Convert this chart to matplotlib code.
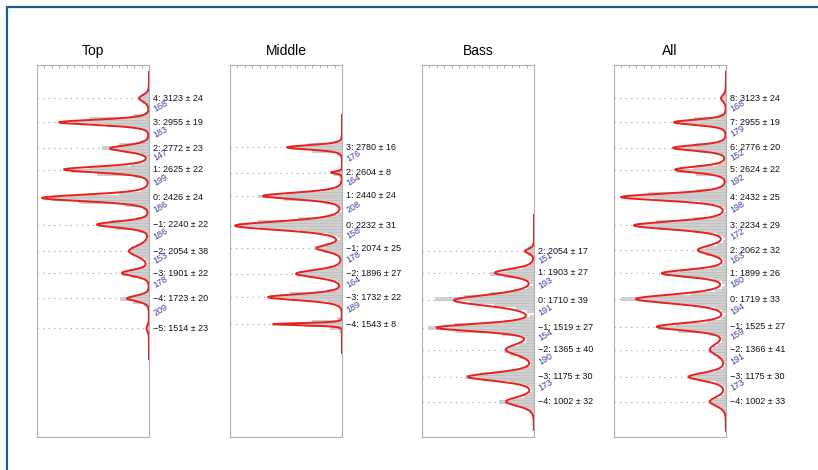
import numpy as np
import matplotlib.pyplot as plt
from matplotlib.patches import Rectangle

plt.rcParams['font.family'] = ['Liberation Sans', 'DejaVu Sans']

panel_titles = ['Top', 'Middle', 'Bass', 'All']

# fitted peaks: index, centre, spread, height of the fitted curve
top_idx = [4, 3, 2, 1, 0, -1, -2, -3, -4, -5]
top_mean = [3123, 2955, 2772, 2625, 2426, 2240, 2054, 1901, 1723, 1514]
top_sd = [24, 19, 23, 22, 24, 22, 38, 22, 20, 23]
top_amp = [10, 90, 39, 85, 107, 52, 20, 27, 22, 2.5]
top_span = (1299, 3307)

mid_idx = [3, 2, 1, 0, -1, -2, -3, -4]
mid_mean = [2780, 2604, 2440, 2232, 2074, 1896, 1732, 1543]
mid_sd = [16, 8, 24, 31, 25, 27, 22, 8]
mid_amp = [55, 11, 79, 107, 25, 46, 74, 69]
mid_span = (1340, 3006)

bass_idx = [2, 1, 0, -1, -2, -3, -4]
bass_mean = [2054, 1903, 1710, 1519, 1365, 1175, 1002]
bass_sd = [17, 27, 39, 27, 40, 30, 32]
bass_amp = [9, 39, 80, 97, 28, 66, 28]
bass_span = (804, 2307)

all_idx = [8, 7, 6, 5, 4, 3, 2, 1, 0, -1, -2, -3, -4]
all_mean = [3123, 2955, 2776, 2624, 2432, 2234, 2062, 1899, 1719, 1525, 1366, 1175, 1002]
all_sd = [24, 19, 20, 22, 25, 29, 32, 26, 33, 27, 41, 30, 33]
all_amp = [5, 52, 53, 51, 105, 92, 28, 64, 90, 69, 16, 37, 16]
all_span = (798, 3309)

# histogram counts, 9 bins of 20 around each peak (low -> high)
top_hist = [
    [0, 1, 3, 7, 10, 6, 3, 1, 0],
    [1, 3, 10, 42, 76, 60, 16, 4, 1],
    [1, 3, 8, 26, 47, 30, 9, 3, 1],
    [1, 4, 14, 52, 78, 60, 18, 5, 1],
    [2, 6, 24, 70, 98, 80, 30, 8, 2],
    [1, 3, 10, 34, 50, 38, 13, 4, 1],
    [1, 4, 9, 16, 21, 18, 10, 4, 1],
    [0, 2, 5, 18, 27, 20, 7, 2, 0],
    [0, 2, 5, 16, 29, 14, 5, 2, 0],
    [0, 0, 1, 2, 3, 2, 1, 0, 0],
]
mid_hist = [
    [1, 2, 5, 30, 50, 34, 7, 2, 1],
    [0, 0, 1, 3, 9, 4, 1, 0, 0],
    [2, 5, 18, 58, 84, 56, 20, 6, 2],
    [4, 14, 42, 82, 104, 84, 44, 14, 4],
    [1, 2, 7, 18, 28, 17, 7, 2, 1],
    [1, 4, 13, 34, 46, 33, 13, 4, 1],
    [1, 4, 14, 50, 72, 52, 15, 4, 1],
    [0, 1, 3, 12, 38, 30, 5, 1, 0],
]
bass_hist = [
    [0, 1, 2, 6, 9, 6, 2, 1, 0],
    [1, 4, 11, 30, 44, 28, 11, 4, 1],
    [7, 18, 40, 64, 99, 70, 44, 20, 7],
    [4, 11, 32, 78, 106, 80, 30, 11, 4],
    [4, 8, 15, 24, 30, 24, 15, 8, 3],
    [3, 9, 24, 52, 69, 50, 22, 9, 3],
    [2, 5, 10, 20, 35, 22, 10, 5, 2],
]
all_hist = [
    [0, 0, 1, 3, 5, 3, 1, 0, 0],
    [1, 2, 6, 26, 50, 32, 7, 2, 1],
    [1, 2, 6, 28, 52, 30, 7, 2, 1],
    [1, 2, 8, 30, 50, 33, 9, 2, 1],
    [2, 6, 26, 72, 102, 78, 30, 7, 2],
    [3, 9, 32, 68, 90, 70, 33, 9, 3],
    [1, 3, 9, 20, 28, 21, 9, 3, 1],
    [1, 4, 13, 44, 62, 46, 15, 4, 1],
    [4, 11, 33, 66, 105, 70, 35, 11, 4],
    [2, 5, 17, 48, 68, 50, 19, 5, 2],
    [2, 4, 8, 13, 18, 13, 8, 4, 2],
    [1, 3, 10, 26, 39, 27, 10, 3, 1],
    [1, 2, 5, 11, 18, 12, 5, 2, 1],
]

panels = [
    (top_idx, top_mean, top_sd, top_amp, top_hist, top_span),
    (mid_idx, mid_mean, mid_sd, mid_amp, mid_hist, mid_span),
    (bass_idx, bass_mean, bass_sd, bass_amp, bass_hist, bass_span),
    (all_idx, all_mean, all_sd, all_amp, all_hist, all_span),
]

W, H = 818, 470
fig = plt.figure(figsize=(W / 100, H / 100), dpi=100)

lefts = [37, 230, 422, 614]
box_w, box_top, box_bot = 112, 65, 437.3
binw = 20
xmax = 112
nu = 6  # slightly heavy-tailed peak shape


def peak(y, m, s, a):
    z = (y - m) / s
    return a * (1 + z ** 2 / nu) ** (-(nu + 1) / 2)


for left, title, (idx, mean, sd, amp, hist, span) in zip(lefts, panel_titles, panels):
    ax = fig.add_axes([left / W, 1 - box_bot / H, box_w / W, (box_bot - box_top) / H])

    # histogram, summed on a common 20-wide grid
    counts = {}
    for m, h in zip(mean, hist):
        c0 = round(m / binw) * binw
        for k, v in zip(range(-4, 5), h):
            counts[c0 + k * binw] = counts.get(c0 + k * binw, 0) + v
    centres = sorted(counts)
    ax.barh(centres, [counts[c] for c in centres], height=binw,
            color='#d0d0d0', edgecolor='#b8b8b8', linewidth=0.4, zorder=2)

    # fitted curve
    yy = np.linspace(span[0], span[1], 3000)
    xx = np.zeros_like(yy)
    for m, s, a in zip(mean, sd, amp):
        xx += peak(yy, m, s, a)
    ax.plot(xx, yy, color='#e8211f', lw=1.4, zorder=4, solid_joinstyle='round')

    for i, (n, m, s, a) in enumerate(zip(idx, mean, sd, amp)):
        ax.plot([xmax, a], [m, m], color='#9a9a9a', lw=0.8,
                linestyle=(0, (1, 4)), zorder=1)
        lab = f'{n}: {m} ± {s}'.replace('-', '\u2212')
        ax.annotate(lab, xy=(1, m), xycoords=('axes fraction', 'data'),
                    xytext=(4, 0), textcoords='offset pixels',
                    ha='left', va='center', fontsize=6.5, color='#111111',
                    annotation_clip=False)
        if i + 1 < len(mean):
            gap = m - mean[i + 1]
            ax.annotate(str(gap), xy=(1, (m + mean[i + 1]) / 2),
                        xycoords=('axes fraction', 'data'),
                        xytext=(5, 0), textcoords='offset pixels',
                        ha='left', va='center', rotation=30, rotation_mode='anchor',
                        fontsize=6.5, color='#3b3fa6', annotation_clip=False)

    ax.set_xlim(xmax, 0)
    ax.set_ylim(752, 3356)
    ax.set_yticks([])
    ax.xaxis.set_ticks_position('top')
    ax.set_xticks(np.arange(0, xmax + 0.1, 7.47))
    ax.tick_params(axis='x', direction='in', length=2.2, width=0.5,
                   color='#9a9a9a', labeltop=False, labelbottom=False)
    for sp in ax.spines.values():
        sp.set_color('#b0b0b0')
        sp.set_linewidth(0.8)
    ax.set_title(title, fontsize=10, pad=7)

# frame round the figure
fig.add_artist(Rectangle((6.5 / W, -0.1), 1.2, 1 - 7.5 / H + 0.1,
                         transform=fig.transFigure, fill=False,
                         edgecolor='#1a5e98', lw=1.6, clip_on=False))

fig.savefig('out.png', dpi=100)
